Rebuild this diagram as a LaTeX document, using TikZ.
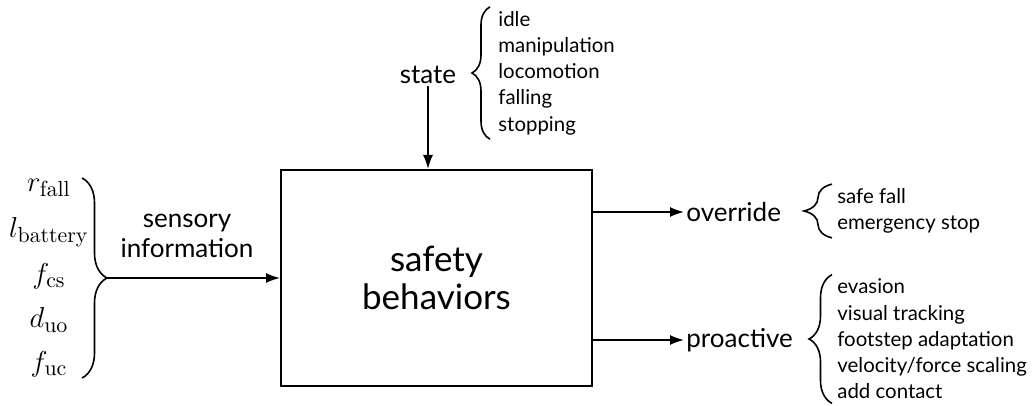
\documentclass[tikz,border=0pt]{standalone}
\usepackage{amsmath}
\usepackage[no-math]{fontspec}
\setmainfont{Lato}
\usetikzlibrary{arrows.meta,positioning,decorations.pathreplacing}
\tikzset{
  flow/.style={-{Latex[length=7pt,width=5pt]},line width=0.8pt},
  curly/.style={decorate,decoration={brace,amplitude=#1},line width=0.8pt},
  curly/.default=9pt,
  lbl/.style={font=\fontsize{13}{15}\selectfont,inner sep=1pt},
  items/.style={align=left,anchor=west,inner sep=0pt,font=\fontsize{10.2}{13.1}\selectfont},
}

\begin{document}
\begin{tikzpicture}[x=0.5pt,y=-0.5pt]
  \useasboundingbox (0,0) rectangle (1032,406);
  % central block
  \node[draw,line width=1pt,minimum width=155.5pt,minimum height=108pt,inner sep=0pt,
        align=center,font=\fontsize{17.5}{19}\selectfont] (box) at (436.5,278) {safety\\behaviors};
  % state input
  \node[lbl] (state) at (428,75) {state};
  \draw[flow] (state) -- (state |- box.north);
  \node[items] (statelist) at (498,73) {idle\\manipulation\\locomotion\\falling\\stopping};
  \draw[curly] ([xshift=-4pt,yshift=-2pt]statelist.south west) -- ([xshift=-4pt,yshift=2pt]statelist.north west);
  % sensory input
  \foreach \sym [count=\i from 0] in {r_{\mathrm{fall}},l_{\mathrm{battery}},f_{\mathrm{cs}},d_{\mathrm{uo}},f_{\mathrm{uc}}}
    \node[inner sep=0pt,font=\fontsize{15.5}{18}\selectfont] (s\i) at (49,188+44*\i) {$\sym$};
  \draw[curly=12.5pt] (82,178) -- (82,378);
  \coordinate (sens) at (107,278);
  \draw[flow] (sens) -- (sens -| box.west);
  \node[lbl,align=center] (sensory) at (187,236) {sensory\\information};
  % outputs
  \node[lbl,anchor=west] (override) at (684,212) {override};
  \draw[flow] (box.east |- override) -- (override.west);
  \node[items] (overlist) at (837,211) {safe fall\\emergency stop};
  \draw[curly=14pt] ([xshift=-2.5pt,yshift=-2pt]overlist.south west) -- ([xshift=-2.5pt,yshift=2pt]overlist.north west);
  \node[lbl,anchor=west] (proactive) at (684,340) {proactive};
  \draw[flow] (box.east |- proactive) -- (proactive.west);
  \node[items] (prolist) at (837,339) {evasion\\visual tracking\\footstep adaptation\\velocity/force scaling\\add contact};
  \draw[curly=11.5pt] ([xshift=-2.5pt,yshift=-2pt]prolist.south west) -- ([xshift=-2.5pt,yshift=2pt]prolist.north west);
\end{tikzpicture}
\end{document}
